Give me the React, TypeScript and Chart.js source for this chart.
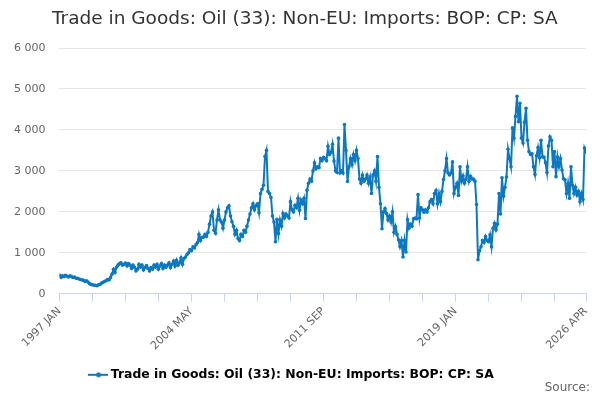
import { useEffect, useRef } from 'react'
import { Chart, registerables, type ChartConfiguration, type Plugin } from 'chart.js'

Chart.register(...registerables)

const seriesName = 'Trade in Goods: Oil (33): Non-EU: Imports: BOP: CP: SA'
const monthNames = ['JAN', 'FEB', 'MAR', 'APR', 'MAY', 'JUN', 'JUL', 'AUG', 'SEP', 'OCT', 'NOV', 'DEC']
const startYear = 1997

// monthly values, one row per year (1997 .. 2026 APR)
const v1997 = [460, 400, 440, 420, 450, 430, 410, 440, 420, 400, 410, 380]
const v1998 = [380, 360, 350, 340, 330, 300, 320, 290, 250, 230, 220, 210]
const v1999 = [210, 200, 220, 230, 260, 280, 300, 320, 350, 340, 400, 480]
const v2000 = [600, 520, 650, 700, 740, 760, 700, 720, 750, 680, 740, 700]
const v2001 = [620, 700, 650, 560, 600, 720, 650, 700, 580, 640, 690, 620]
const v2002 = [560, 640, 600, 700, 650, 720, 600, 680, 740, 620, 700, 650]
const v2003 = [700, 760, 640, 720, 800, 680, 820, 700, 760, 880, 720, 860]
const v2004 = [900, 960, 1000, 1080, 1050, 1150, 1120, 1200, 1250, 1450, 1300, 1380]
const v2005 = [1380, 1450, 1400, 1500, 1700, 1900, 2000, 1550, 1480, 1800, 2050, 1800]
const v2006 = [1750, 1600, 1800, 2000, 2100, 2150, 1900, 1760, 1650, 1450, 1550, 1350]
const v2007 = [1300, 1450, 1400, 1550, 1500, 1650, 1800, 1950, 2100, 2200, 2050, 2150]
const v2008 = [2200, 1980, 2450, 2550, 2650, 3350, 3500, 2500, 2450, 2350, 1900, 1750]
const v2009 = [1270, 1820, 1470, 1800, 1650, 1960, 1850, 1950, 1900, 1850, 2250, 2050]
const v2010 = [2000, 2160, 2100, 2330, 2040, 2290, 2200, 2330, 1840, 2530, 2700, 2800]
const v2011 = [2750, 3000, 3200, 3050, 3100, 3080, 3300, 3250, 3330, 3300, 3250, 3600]
const v2012 = [3400, 3450, 3650, 3240, 3000, 2960, 3800, 2950, 3000, 2950, 4130, 3500]
const v2013 = [2740, 3100, 3300, 3150, 3400, 3250, 3500, 3300, 2800, 2700, 2900, 2750]
const v2014 = [2800, 2900, 2700, 2850, 2450, 2900, 3000, 2750, 3350, 2600, 2200, 1590]
const v2015 = [2000, 2080, 1960, 1800, 1900, 1750, 2000, 1500, 1640, 1450, 1320, 1150]
const v2016 = [1300, 900, 1300, 1020, 1810, 1600, 1700, 1650, 1830, 1850, 1830, 2420]
const v2017 = [1850, 2100, 2050, 1990, 2050, 2000, 2100, 2250, 2300, 2200, 2450, 2520]
const v2018 = [2200, 2450, 2250, 2500, 2790, 3000, 3300, 2950, 2900, 2950, 3220, 2450]
const v2019 = [2600, 2700, 2400, 3100, 2750, 2880, 2700, 2800, 3100, 2750, 2870, 2800]
const v2020 = [2800, 2750, 2180, 830, 1050, 1150, 1300, 1250, 1400, 1300, 1270, 1440]
const v2021 = [1150, 1600, 1720, 1560, 1700, 2450, 1950, 2830, 2380, 2600, 2850, 3530]
const v2022 = [3300, 3100, 4050, 3800, 4330, 4820, 4200, 4650, 3800, 3680, 4190, 4530]
const v2023 = [3750, 3470, 3400, 3420, 3100, 2910, 3370, 3570, 3320, 3750, 3340, 3340]
const v2024 = [3200, 2960, 3610, 3830, 3750, 3100, 3470, 2860, 3340, 3100, 3300, 3020]
const v2025 = [2810, 2780, 2450, 2700, 2330, 3100, 2650, 2450, 2600, 2410, 2500, 2250]
const v2026 = [2450, 2300, 3560, 3470]

const values = [
  ...v1997, ...v1998, ...v1999, ...v2000, ...v2001, ...v2002, ...v2003, ...v2004,
  ...v2005, ...v2006, ...v2007, ...v2008, ...v2009, ...v2010, ...v2011, ...v2012,
  ...v2013, ...v2014, ...v2015, ...v2016, ...v2017, ...v2018, ...v2019, ...v2020,
  ...v2021, ...v2022, ...v2023, ...v2024, ...v2025, ...v2026,
]

const categories = values.map((_, i) => `${startYear + Math.floor(i / 12)} ${monthNames[i % 12]}`)

// tick marks every 22 months, labels every 88 plus the last month
const tickStep = 22
const labelIndexes = [0, 88, 176, 264, categories.length - 1]
const yTicks = [0, 1000, 2000, 3000, 4000, 5000, 6000]

const lineColor = '#0b78c2'

function legendMarker() {
  const c = document.createElement('canvas')
  c.width = 20
  c.height = 8
  const ctx = c.getContext('2d')
  if (ctx) {
    ctx.strokeStyle = lineColor
    ctx.lineWidth = 2
    ctx.beginPath()
    ctx.moveTo(0, 4)
    ctx.lineTo(20, 4)
    ctx.stroke()
    ctx.fillStyle = lineColor
    ctx.beginPath()
    ctx.arc(10, 4, 2.5, 0, Math.PI * 2)
    ctx.fill()
  }
  return c
}

// title and source note drawn at fixed spots, like the original
const textPlugin: Plugin<'line'> = {
  id: 'titleAndSource',
  afterDraw(chart) {
    const ctx = chart.ctx
    ctx.save()
    ctx.textBaseline = 'middle'
    ctx.font = '18.5px "DejaVu Sans"'
    ctx.fillStyle = '#333333'
    ctx.textAlign = 'left'
    ctx.fillText(seriesName, 52, 19)
    ctx.font = '12px "DejaVu Sans"'
    ctx.fillStyle = '#666666'
    ctx.textAlign = 'right'
    ctx.fillText('Source:', 590, 388)
    ctx.restore()
  },
}

export default function App() {
  const canvasRef = useRef<HTMLCanvasElement | null>(null)
  const chartRef = useRef<Chart<'line'> | null>(null)

  useEffect(() => {
    document.body.style.margin = '0'
    const canvas = canvasRef.current
    if (!canvas) {
      return
    }
    chartRef.current?.destroy()

    const marker = legendMarker()

    const config: ChartConfiguration<'line'> = {
      type: 'line',
      data: {
        datasets: [
          {
            label: seriesName,
            data: values.map((v, i) => ({ x: i, y: v })),
            borderColor: lineColor,
            backgroundColor: lineColor,
            borderWidth: 2,
            pointRadius: 1.8,
            pointBorderWidth: 0,
            pointBackgroundColor: lineColor,
            tension: 0,
          },
        ],
      },
      options: {
        responsive: false,
        animation: false,
        layout: { padding: { left: 0, right: 14, top: 48, bottom: 9 } },
        plugins: {
          title: { display: false },
          legend: {
            position: 'bottom',
            labels: {
              usePointStyle: true,
              padding: 13,
              color: '#333333',
              font: { family: '"DejaVu Sans"', size: 12.4, weight: 'bold' },
              generateLabels: () => [
                {
                  text: seriesName,
                  pointStyle: marker,
                  fillStyle: lineColor,
                  strokeStyle: lineColor,
                  lineWidth: 0,
                  hidden: false,
                  datasetIndex: 0,
                },
              ],
            },
          },
          tooltip: { enabled: false },
        },
        scales: {
          x: {
            type: 'linear',
            min: 0,
            max: categories.length - 1,
            afterBuildTicks: (axis) => {
              const ticks = []
              for (let i = 0; i < categories.length - 1; i += tickStep) {
                ticks.push({ value: i })
              }
              ticks.push({ value: categories.length - 1 })
              axis.ticks = ticks
            },
            grid: {
              drawOnChartArea: false,
              drawTicks: true,
              tickLength: 8,
              color: '#ccd6eb',
            },
            border: { display: true, color: '#ccd6eb' },
            ticks: {
              autoSkip: false,
              minRotation: 45,
              maxRotation: 45,
              color: '#666666',
              font: { family: '"DejaVu Sans"', size: 11 },
              callback: (value) => {
                const i = Number(value)
                return labelIndexes.includes(i) ? categories[i] : ''
              },
            },
          },
          y: {
            min: 0,
            max: 6000,
            afterBuildTicks: (axis) => {
              axis.ticks = yTicks.map((v) => ({ value: v }))
            },
            grid: { color: '#e6e6e6', drawTicks: false },
            border: { display: false },
            ticks: {
              padding: 14,
              color: '#666666',
              font: { family: '"DejaVu Sans"', size: 11 },
              callback: (value) => String(value).replace(/\B(?=(\d{3})+(?!\d))/g, ' '),
            },
          },
        },
      },
      plugins: [textPlugin],
    }

    chartRef.current = new Chart(canvas, config)

    return () => {
      chartRef.current?.destroy()
      chartRef.current = null
    }
  }, [])

  return (
    <div style={{ width: 600, height: 400, background: '#ffffff' }}>
      <canvas ref={canvasRef} width={600} height={400} aria-label={seriesName} role="img" />
    </div>
  )
}
